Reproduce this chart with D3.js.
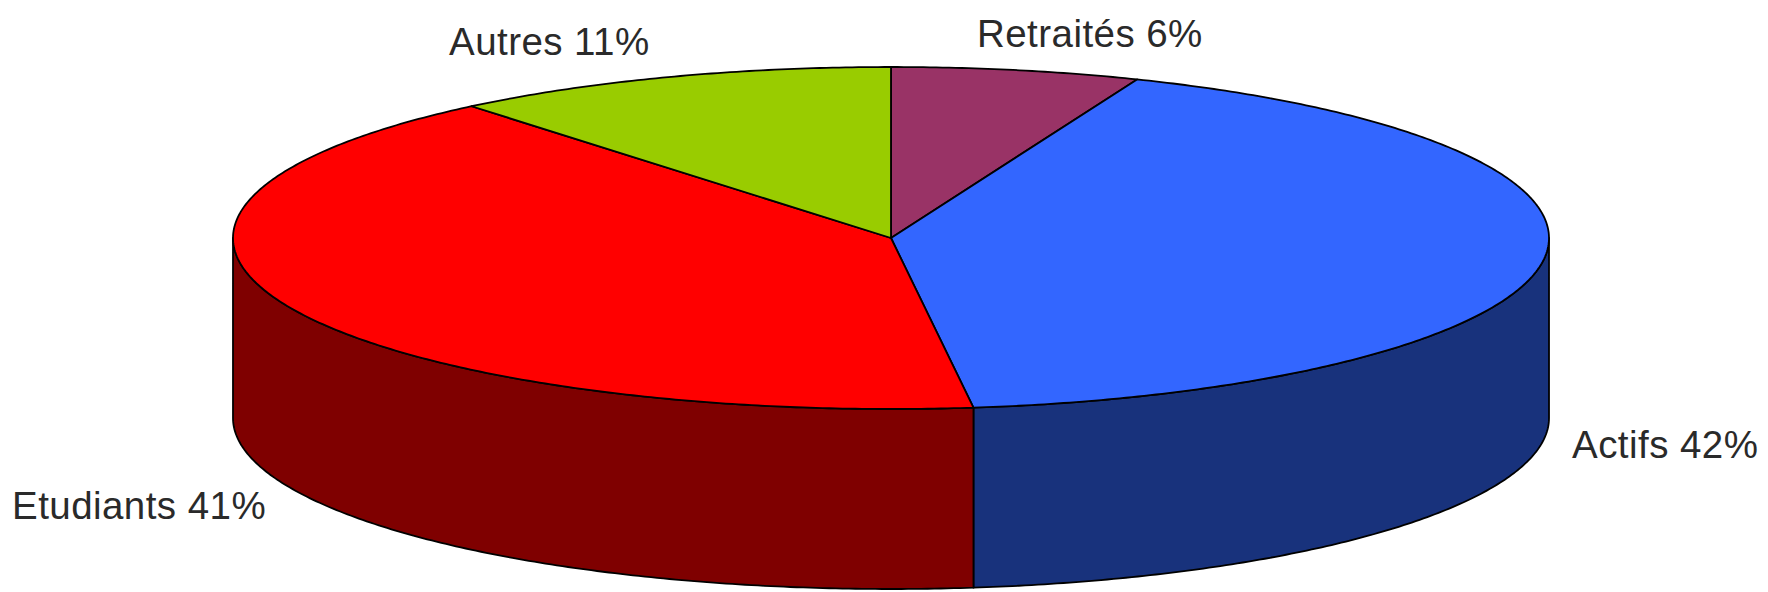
<!DOCTYPE html>
<html>
<head>
<meta charset="utf-8">
<script src="https://cdn.jsdelivr.net/npm/d3@7"></script>
<style>
  html, body { margin: 0; padding: 0; background: #fff; }
  svg { display: block; }
  .label { font-family: "Liberation Sans", Arial, sans-serif; font-size: 38.5px; letter-spacing: 0.45px; fill: #2a2a2a; }
  .top, .side { stroke: #000; stroke-width: 1.8px; stroke-linejoin: round; }
</style>
</head>
<body>
<script>
const categories = ["Retraités", "Actifs", "Etudiants", "Autres"];
const values = [6.1, 41.9, 41, 11];
const topColors = ["#993366", "#3366ff", "#ff0000", "#99cc00"];
const sideColors = ["#4d1a33", "#18327c", "#7f0000", "#4d6600"];

const width = 1768;
const height = 592;
const depth = 180;

// label anchor for each slice, in page pixels
const labelX = [977, 1572, 12, 449];
const labelY = [47, 458, 519, 55];

const x = d3.scaleLinear().domain([-1, 1]).range([233, 1549]);
const y = d3.scaleLinear().domain([-1, 1]).range([67, 409]);

const pie = d3.pie().sort(null)(values);
const line = d3.line().x(d => d[0]).y(d => d[1]);

// points along the rim between two pie angles, dy pushes it down for the wall
function rim(a0, a1, dy) {
  const n = Math.max(2, Math.ceil((a1 - a0) / 0.01));
  return d3.range(n + 1).map(i => {
    const a = a0 + (a1 - a0) * i / n;
    return [x(Math.sin(a)), y(-Math.cos(a)) + dy];
  });
}

const svg = d3.select("body")
  .append("svg")
  .attr("width", width)
  .attr("height", height);

// only the part of the wall facing us is visible (90deg to 270deg)
svg.selectAll("path.side")
  .data(pie.filter(d => d.endAngle > Math.PI / 2 && d.startAngle < Math.PI * 1.5))
  .enter()
  .append("path")
  .attr("class", "side")
  .attr("fill", d => sideColors[d.index])
  .attr("d", d => {
    const a0 = Math.max(d.startAngle, Math.PI / 2);
    const a1 = Math.min(d.endAngle, Math.PI * 1.5);
    return line(rim(a0, a1, 0).concat(rim(a0, a1, depth).reverse())) + "Z";
  });

svg.selectAll("path.top")
  .data(pie)
  .enter()
  .append("path")
  .attr("class", "top")
  .attr("fill", d => topColors[d.index])
  .attr("d", d => line([[x(0), y(0)]].concat(rim(d.startAngle, d.endAngle, 0))) + "Z");

svg.selectAll("text.label")
  .data(categories)
  .enter()
  .append("text")
  .attr("class", "label")
  .attr("x", (d, i) => labelX[i])
  .attr("y", (d, i) => labelY[i])
  .text((d, i) => d + " " + Math.round(values[i]) + "%");
</script>
</body>
</html>
